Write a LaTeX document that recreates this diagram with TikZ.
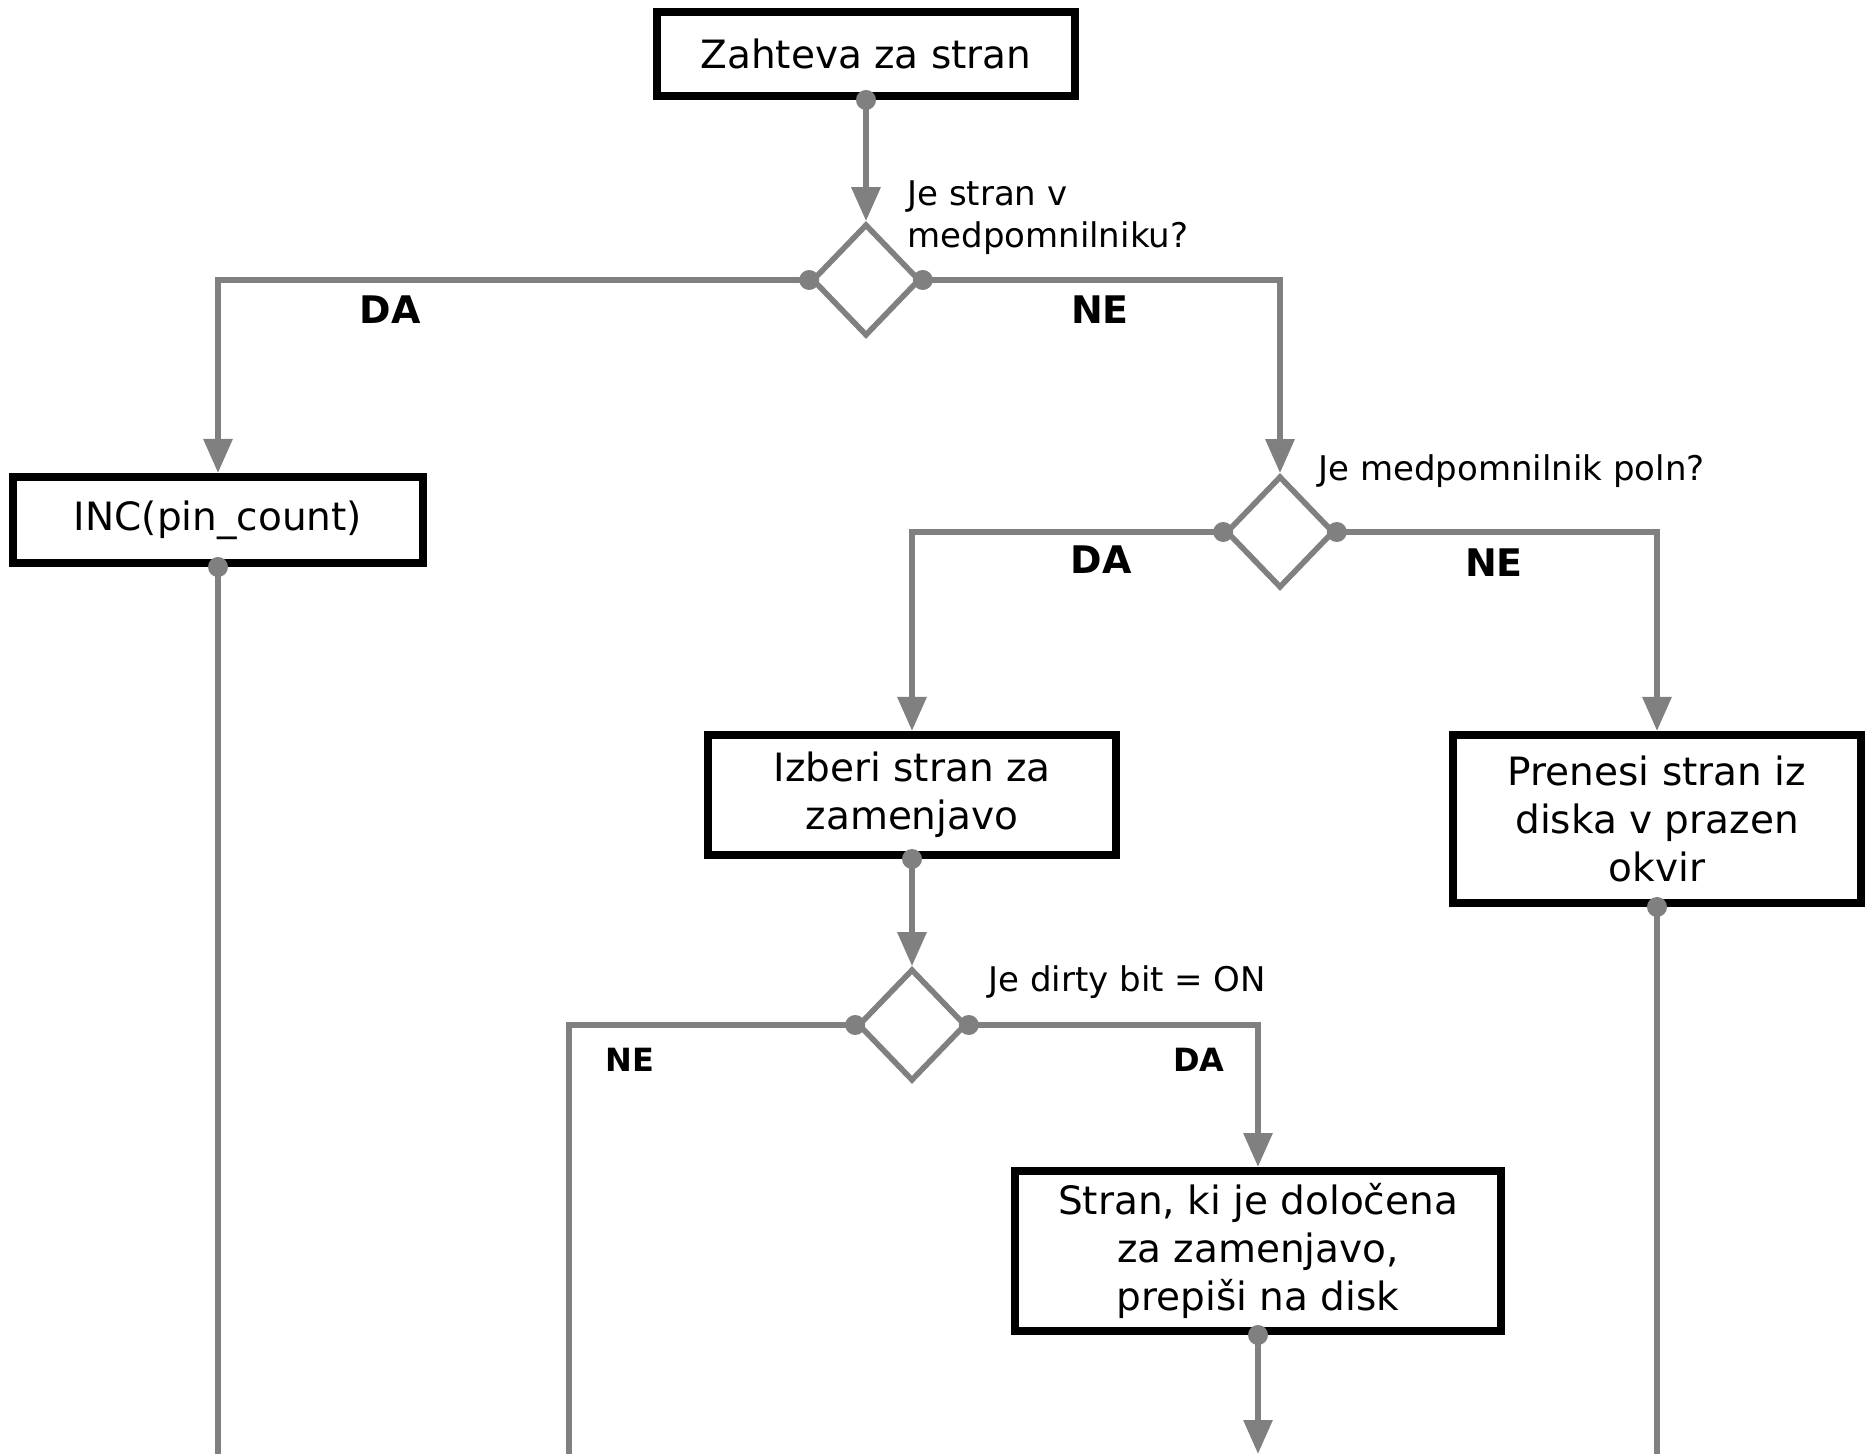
\documentclass[tikz,border=0pt]{standalone}
\usepackage{fontspec}
\setmainfont{DejaVu Sans}
\usetikzlibrary{arrows.meta,shapes.geometric}

\definecolor{flowgray}{RGB}{128,128,128}

\begin{document}
\begin{tikzpicture}[x=0.5pt, y=-0.5pt,
    box/.style={rectangle, draw=black, line width=4pt, fill=white,
        align=center, inner sep=0pt, font=\fontsize{19.5}{24}\selectfont},
    choice/.style={diamond, draw=flowgray, line width=2.8pt, fill=white,
        minimum width=54pt, minimum height=56pt, inner sep=0pt},
    flow/.style={draw=flowgray, line width=3.1pt},
    arrow/.style={flow, -{Triangle[width=14pt, length=17pt]}},
    question/.style={anchor=west, align=left, inner sep=0pt,
        font=\fontsize{17}{21}\selectfont},
    answer/.style={inner sep=0pt, font=\bfseries\fontsize{19}{23}\selectfont},
    small answer/.style={answer, font=\bfseries\fontsize{16}{20}\selectfont}
]
    \useasboundingbox (0,0) rectangle (1865,1454);

    \node[box, minimum width=209pt, minimum height=42pt] (req) at (866,54) {Zahteva za stran};
    \node[choice] (inbuf) at (866,280) {};
    \node[box, minimum width=205pt, minimum height=43pt] (inc) at (218,520) {INC(pin\_count)};
    \node[choice] (full) at (1280,532) {};
    \node[box, minimum width=204pt, minimum height=60pt] (pick) at (912,795) {Izberi stran za\\zamenjavo};
    \node[box, minimum width=204pt, minimum height=84pt] (load) at (1657,819) {Prenesi stran iz\\diska v prazen\\okvir};
    \node[choice] (dirty) at (912,1025) {};
    \node[box, minimum width=243pt, minimum height=80pt] (write) at (1258,1251) {Stran, ki je določena\\za zamenjavo,\\prepiši na disk};

    \coordinate (bottom) at (0,1454);
    \coordinate (cleanend) at (569,1454);

    % vprasanja
    \node[question] (q1) at (907,218) {Je stran v\\medpomnilniku?};
    \node[question] (q2) at (1318,471) {Je medpomnilnik poln?};
    \node[question] (q3) at (988,982) {Je dirty bit = ON};

    % odgovori
    \node[answer] (da1) at (390,310) {DA};
    \node[answer] (ne1) at (1100,310) {NE};
    \node[answer] (da2) at (1101,560) {DA};
    \node[answer] (ne2) at (1494,563) {NE};
    \node[small answer] (ne3) at (630,1060) {NE};
    \node[small answer] (da3) at (1199,1060) {DA};

    \draw[arrow] (req.south) -- (inbuf.north);
    \draw[arrow] (inbuf.west) -| (inc.north);
    \draw[arrow] (inbuf.east) -| (full.north);
    \draw[flow] (inc.south) -- (inc.south |- bottom);
    \draw[arrow] (full.west) -| (pick.north);
    \draw[arrow] (full.east) -| (load.north);
    \draw[flow] (load.south) -- (load.south |- bottom);
    \draw[arrow] (pick.south) -- (dirty.north);
    \draw[flow] (dirty.west) -| (cleanend);
    \draw[arrow] (dirty.east) -| (write.north);
    \draw[arrow] (write.south) -- (write.south |- bottom);

    \foreach \p in {req.south, inbuf.west, inbuf.east, inc.south, full.west,
        full.east, pick.south, load.south, dirty.west, dirty.east, write.south}
        \fill[flowgray] (\p) circle (5pt);
\end{tikzpicture}
\end{document}
